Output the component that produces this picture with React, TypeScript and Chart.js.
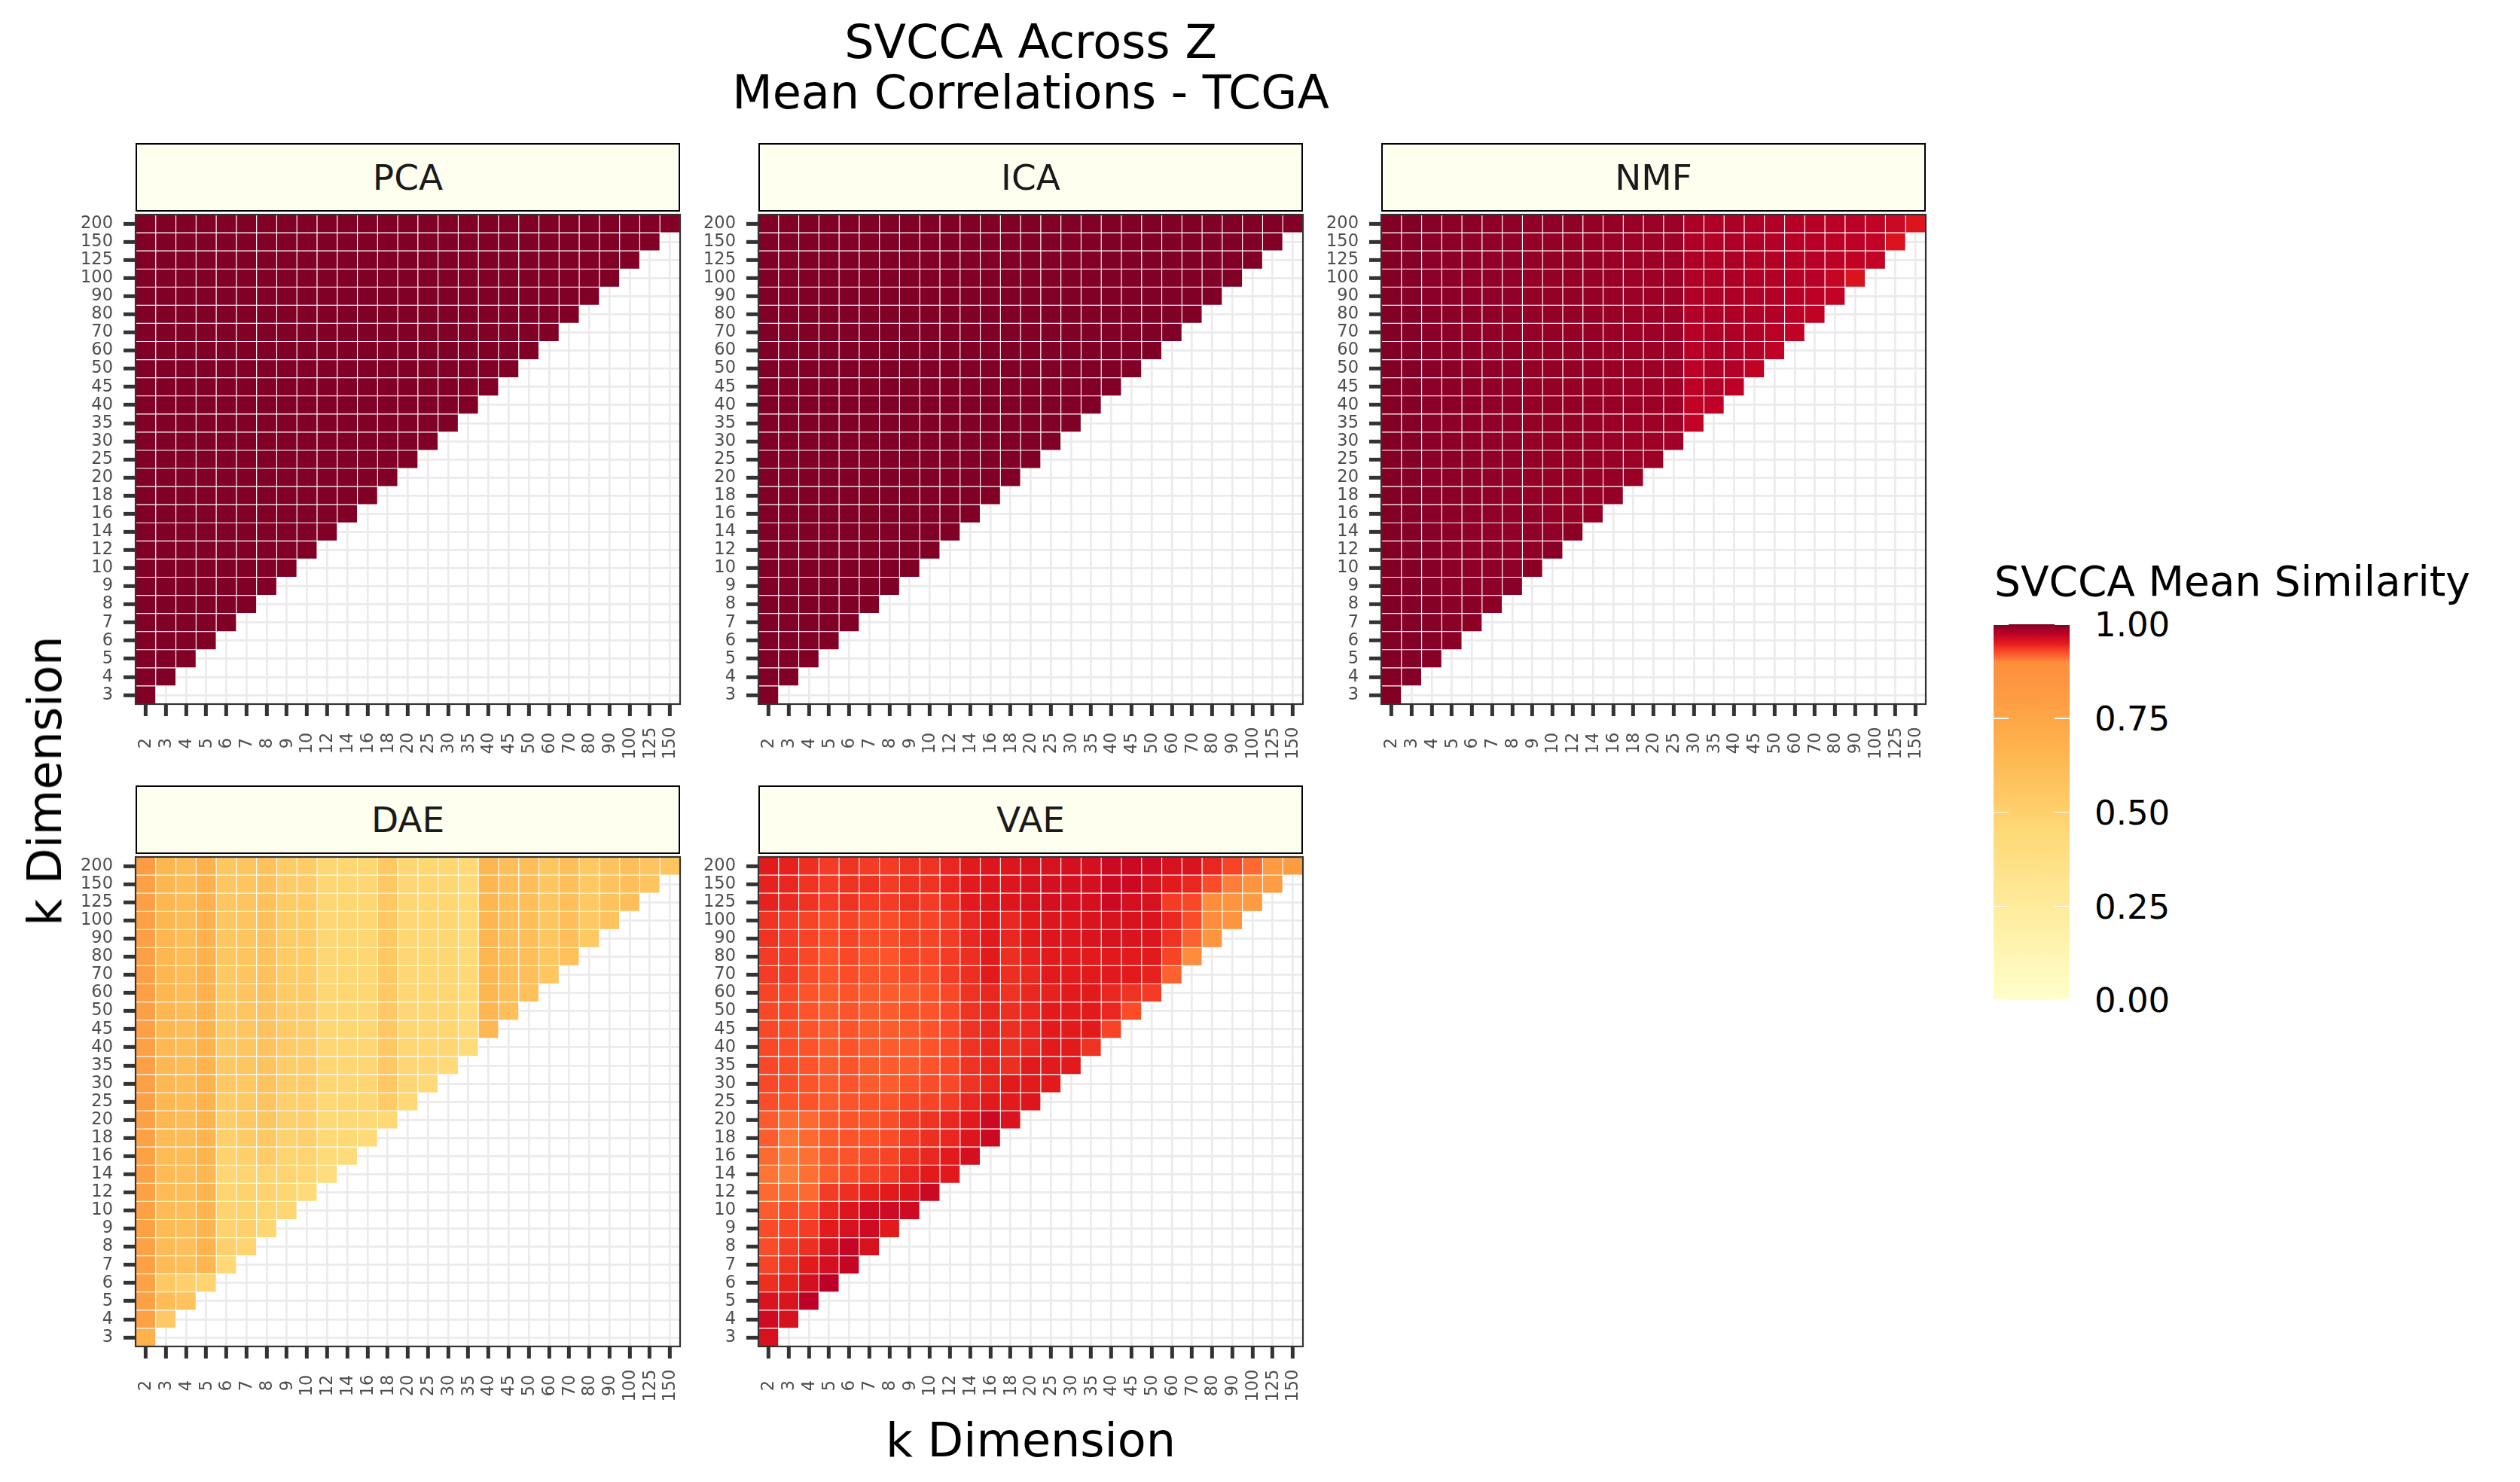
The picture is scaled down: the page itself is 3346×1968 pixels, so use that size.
import React, { useEffect, useRef } from "react";
import { Chart, registerables } from "chart.js";

Chart.register(...registerables);

const FONT = "'DejaVu Sans', 'Liberation Sans', sans-serif";
Chart.defaults.font.family = FONT;

// ---------------- data ----------------
const xLabels = ["2","3","4","5","6","7","8","9","10","12","14","16","18","20","25","30","35","40","45","50","60","70","80","90","100","125","150"];
const yLabels = ["3","4","5","6","7","8","9","10","12","14","16","18","20","25","30","35","40","45","50","60","70","80","90","100","125","150","200"];
const methodNames = ["PCA", "ICA", "NMF", "DAE", "VAE"];

const paletteStops = [0, 0.225, 0.45, 0.675, 0.9, 0.925, 0.95, 0.975, 1];
const paletteColors = ["#FFFFCC", "#FFEDA0", "#FED976", "#FEB24C", "#FD8D3C", "#FC4E2A", "#E31A1C", "#BD0026", "#800026"];
const legendTicks = [0, 0.25, 0.5, 0.75, 1];
const legendTickLabels = ["0.00", "0.25", "0.50", "0.75", "1.00"];

// rows: y = 3 (first) ... y = 200 (last); each row holds x = 2 ... (< y)
const pcaValues: number[][] = [
  [1],
  [1, 1],
  [1, 1, 1],
  [1, 1, 1, 1],
  [1, 1, 1, 1, 1],
  [1, 1, 1, 1, 1, 1],
  [1, 1, 1, 1, 1, 1, 1],
  [1, 1, 1, 1, 1, 1, 1, 1],
  [1, 1, 1, 1, 1, 1, 1, 1, 1],
  [1, 1, 1, 1, 1, 1, 1, 1, 1, 1],
  [1, 1, 1, 1, 1, 1, 1, 1, 1, 1, 1],
  [1, 1, 1, 1, 1, 1, 1, 1, 1, 1, 1, 1],
  [1, 1, 1, 1, 1, 1, 1, 1, 1, 1, 1, 1, 1],
  [1, 1, 1, 1, 1, 1, 1, 1, 1, 1, 1, 1, 1, 1],
  [1, 1, 1, 1, 1, 1, 1, 1, 1, 1, 1, 1, 1, 1, 1],
  [1, 1, 1, 1, 1, 1, 1, 1, 1, 1, 1, 1, 1, 1, 1, 1],
  [1, 1, 1, 1, 1, 1, 1, 1, 1, 1, 1, 1, 1, 1, 1, 1, 1],
  [1, 1, 1, 1, 1, 1, 1, 1, 1, 1, 1, 1, 1, 1, 1, 1, 1, 1],
  [1, 1, 1, 1, 1, 1, 1, 1, 1, 1, 1, 1, 1, 1, 1, 1, 1, 1, 1],
  [1, 1, 1, 1, 1, 1, 1, 1, 1, 1, 1, 1, 1, 1, 1, 1, 1, 1, 1, 1],
  [1, 1, 1, 1, 1, 1, 1, 1, 1, 1, 1, 1, 1, 1, 1, 1, 1, 1, 1, 1, 1],
  [1, 1, 1, 1, 1, 1, 1, 1, 1, 1, 1, 1, 1, 1, 1, 1, 1, 1, 1, 1, 1, 1],
  [1, 1, 1, 1, 1, 1, 1, 1, 1, 1, 1, 1, 1, 1, 1, 1, 1, 1, 1, 1, 1, 1, 1],
  [1, 1, 1, 1, 1, 1, 1, 1, 1, 1, 1, 1, 1, 1, 1, 1, 1, 1, 1, 1, 1, 1, 1, 1],
  [1, 1, 1, 1, 1, 1, 1, 1, 1, 1, 1, 1, 1, 1, 1, 1, 1, 1, 1, 1, 1, 1, 1, 1, 0.999],
  [1, 1, 1, 1, 1, 1, 1, 1, 1, 1, 1, 1, 1, 1, 1, 1, 1, 1, 1, 1, 1, 1, 1, 1, 0.999, 0.999],
  [1, 1, 1, 1, 1, 1, 1, 1, 1, 1, 1, 1, 1, 1, 1, 1, 1, 1, 1, 1, 1, 1, 1, 1, 0.999, 0.999, 0.998],
];

const icaValues: number[][] = [
  [1],
  [1, 1],
  [1, 1, 1],
  [1, 1, 1, 1],
  [1, 1, 1, 1, 1],
  [1, 1, 1, 1, 1, 1],
  [1, 1, 1, 1, 1, 1, 1],
  [1, 1, 1, 1, 1, 1, 1, 1],
  [1, 1, 1, 1, 1, 1, 1, 1, 1],
  [1, 1, 1, 1, 1, 1, 1, 1, 1, 1],
  [1, 1, 1, 1, 1, 1, 1, 1, 1, 1, 1],
  [1, 1, 1, 1, 1, 1, 1, 1, 1, 1, 1, 1],
  [1, 1, 1, 1, 1, 1, 1, 1, 1, 1, 1, 1, 1],
  [1, 1, 1, 1, 1, 1, 1, 1, 1, 1, 1, 1, 1, 1],
  [1, 1, 1, 1, 1, 1, 1, 1, 1, 1, 1, 1, 1, 1, 1],
  [1, 1, 1, 1, 1, 1, 1, 1, 1, 1, 1, 1, 1, 1, 1, 1],
  [1, 1, 1, 1, 1, 1, 1, 1, 1, 1, 1, 1, 1, 1, 1, 1, 1],
  [1, 1, 1, 1, 1, 1, 1, 1, 1, 1, 1, 1, 1, 1, 1, 1, 1, 1],
  [1, 1, 1, 1, 1, 1, 1, 1, 1, 1, 1, 1, 1, 1, 1, 1, 1, 1, 1],
  [1, 1, 1, 1, 1, 1, 1, 1, 1, 1, 1, 1, 1, 1, 1, 1, 1, 1, 1, 1],
  [1, 1, 1, 1, 1, 1, 1, 1, 1, 1, 1, 1, 1, 1, 1, 1, 1, 1, 1, 1, 1],
  [1, 1, 1, 1, 1, 1, 1, 1, 1, 1, 1, 1, 1, 1, 1, 1, 1, 1, 1, 1, 1, 1],
  [1, 1, 1, 1, 1, 1, 1, 1, 1, 1, 1, 1, 1, 1, 1, 1, 1, 1, 1, 1, 1, 1, 1],
  [1, 1, 1, 1, 1, 1, 1, 1, 1, 1, 1, 1, 1, 1, 1, 1, 1, 1, 1, 1, 1, 1, 1, 1],
  [1, 1, 1, 1, 1, 1, 1, 1, 1, 1, 1, 1, 1, 1, 1, 1, 1, 1, 1, 1, 1, 1, 1, 1, 1],
  [1, 1, 1, 1, 1, 1, 1, 1, 1, 1, 1, 1, 1, 1, 1, 1, 1, 1, 1, 1, 1, 1, 1, 1, 1, 0.999],
  [1, 1, 1, 1, 1, 1, 1, 1, 1, 1, 1, 1, 1, 1, 1, 1, 1, 1, 1, 1, 1, 1, 1, 1, 1, 0.999, 0.999],
];

const nmfValues: number[][] = [
  [0.999],
  [0.999, 0.998],
  [0.999, 0.998, 0.997],
  [0.999, 0.998, 0.997, 0.996],
  [0.999, 0.998, 0.997, 0.996, 0.995],
  [0.999, 0.998, 0.997, 0.996, 0.995, 0.995],
  [0.999, 0.998, 0.997, 0.995, 0.995, 0.994, 0.996],
  [0.999, 0.998, 0.997, 0.995, 0.994, 0.994, 0.994, 0.995],
  [0.999, 0.998, 0.997, 0.995, 0.994, 0.994, 0.993, 0.993, 0.996],
  [0.999, 0.998, 0.997, 0.995, 0.994, 0.993, 0.993, 0.993, 0.993, 0.995],
  [0.999, 0.998, 0.996, 0.995, 0.994, 0.993, 0.993, 0.993, 0.992, 0.992, 0.991],
  [0.999, 0.998, 0.996, 0.995, 0.994, 0.993, 0.993, 0.992, 0.992, 0.992, 0.991, 0.991],
  [0.999, 0.998, 0.996, 0.995, 0.994, 0.993, 0.993, 0.992, 0.992, 0.992, 0.991, 0.991, 0.990],
  [0.999, 0.998, 0.996, 0.995, 0.994, 0.993, 0.993, 0.992, 0.992, 0.992, 0.991, 0.990, 0.989, 0.988],
  [0.999, 0.998, 0.996, 0.995, 0.994, 0.993, 0.993, 0.992, 0.992, 0.992, 0.991, 0.990, 0.989, 0.988, 0.986],
  [0.999, 0.998, 0.996, 0.995, 0.994, 0.993, 0.993, 0.992, 0.992, 0.992, 0.991, 0.990, 0.989, 0.988, 0.987, 0.972],
  [0.999, 0.998, 0.996, 0.995, 0.994, 0.993, 0.993, 0.992, 0.992, 0.992, 0.991, 0.990, 0.989, 0.988, 0.987, 0.973, 0.974],
  [0.999, 0.998, 0.996, 0.995, 0.994, 0.993, 0.993, 0.992, 0.992, 0.992, 0.991, 0.990, 0.989, 0.988, 0.987, 0.975, 0.979, 0.975],
  [0.999, 0.998, 0.996, 0.995, 0.994, 0.993, 0.993, 0.992, 0.992, 0.992, 0.991, 0.990, 0.989, 0.988, 0.987, 0.975, 0.980, 0.979, 0.973],
  [0.999, 0.998, 0.996, 0.995, 0.994, 0.993, 0.993, 0.992, 0.992, 0.992, 0.991, 0.990, 0.989, 0.988, 0.988, 0.977, 0.981, 0.981, 0.979, 0.973],
  [0.999, 0.998, 0.996, 0.995, 0.994, 0.993, 0.993, 0.992, 0.992, 0.992, 0.991, 0.990, 0.989, 0.988, 0.988, 0.978, 0.981, 0.981, 0.980, 0.976, 0.973],
  [0.999, 0.998, 0.996, 0.995, 0.994, 0.993, 0.993, 0.992, 0.992, 0.992, 0.991, 0.990, 0.989, 0.988, 0.988, 0.979, 0.981, 0.981, 0.980, 0.979, 0.976, 0.973],
  [0.999, 0.998, 0.996, 0.995, 0.994, 0.993, 0.993, 0.992, 0.992, 0.992, 0.991, 0.990, 0.989, 0.988, 0.988, 0.980, 0.981, 0.981, 0.980, 0.979, 0.977, 0.975, 0.972],
  [0.999, 0.998, 0.996, 0.995, 0.994, 0.993, 0.993, 0.992, 0.992, 0.992, 0.991, 0.990, 0.989, 0.988, 0.988, 0.980, 0.981, 0.982, 0.980, 0.979, 0.978, 0.977, 0.970, 0.956],
  [0.999, 0.998, 0.996, 0.995, 0.994, 0.993, 0.993, 0.992, 0.992, 0.992, 0.991, 0.990, 0.989, 0.988, 0.988, 0.981, 0.980, 0.982, 0.980, 0.979, 0.978, 0.977, 0.976, 0.973, 0.972],
  [0.999, 0.998, 0.996, 0.995, 0.994, 0.993, 0.993, 0.992, 0.992, 0.992, 0.991, 0.990, 0.989, 0.988, 0.988, 0.981, 0.980, 0.982, 0.980, 0.979, 0.978, 0.977, 0.976, 0.975, 0.972, 0.956],
  [0.999, 0.999, 0.997, 0.996, 0.995, 0.994, 0.994, 0.993, 0.993, 0.993, 0.992, 0.991, 0.990, 0.989, 0.988, 0.981, 0.980, 0.982, 0.980, 0.979, 0.978, 0.977, 0.976, 0.975, 0.972, 0.967, 0.955],
];

const daeValues: number[][] = [
  [0.68],
  [0.78, 0.54],
  [0.78, 0.62, 0.58],
  [0.77, 0.55, 0.50, 0.48],
  [0.78, 0.63, 0.60, 0.65, 0.45],
  [0.78, 0.63, 0.60, 0.67, 0.50, 0.48],
  [0.78, 0.63, 0.61, 0.66, 0.49, 0.51, 0.47],
  [0.78, 0.63, 0.61, 0.66, 0.49, 0.49, 0.48, 0.46],
  [0.78, 0.63, 0.61, 0.66, 0.48, 0.49, 0.49, 0.47, 0.44],
  [0.78, 0.63, 0.61, 0.64, 0.46, 0.48, 0.48, 0.48, 0.47, 0.40],
  [0.78, 0.63, 0.62, 0.66, 0.49, 0.51, 0.53, 0.48, 0.48, 0.44, 0.42],
  [0.78, 0.63, 0.62, 0.66, 0.51, 0.53, 0.55, 0.49, 0.50, 0.45, 0.45, 0.44],
  [0.78, 0.64, 0.62, 0.66, 0.52, 0.54, 0.56, 0.50, 0.50, 0.45, 0.45, 0.45, 0.45],
  [0.79, 0.64, 0.62, 0.67, 0.53, 0.55, 0.57, 0.51, 0.51, 0.45, 0.46, 0.46, 0.53, 0.45],
  [0.79, 0.64, 0.62, 0.67, 0.54, 0.55, 0.58, 0.52, 0.52, 0.46, 0.46, 0.46, 0.54, 0.46, 0.45],
  [0.79, 0.64, 0.62, 0.67, 0.54, 0.56, 0.58, 0.52, 0.52, 0.46, 0.47, 0.46, 0.54, 0.46, 0.46, 0.44],
  [0.79, 0.64, 0.62, 0.67, 0.55, 0.56, 0.58, 0.53, 0.52, 0.46, 0.47, 0.46, 0.54, 0.46, 0.46, 0.46, 0.42],
  [0.79, 0.64, 0.62, 0.67, 0.55, 0.56, 0.58, 0.53, 0.52, 0.46, 0.47, 0.46, 0.54, 0.46, 0.47, 0.47, 0.44, 0.64],
  [0.79, 0.65, 0.62, 0.67, 0.55, 0.56, 0.58, 0.53, 0.52, 0.46, 0.47, 0.46, 0.54, 0.46, 0.47, 0.47, 0.44, 0.65, 0.60],
  [0.79, 0.65, 0.62, 0.68, 0.55, 0.57, 0.59, 0.53, 0.53, 0.46, 0.47, 0.46, 0.55, 0.46, 0.47, 0.47, 0.45, 0.65, 0.60, 0.59],
  [0.79, 0.65, 0.62, 0.68, 0.55, 0.57, 0.59, 0.53, 0.53, 0.46, 0.47, 0.46, 0.55, 0.46, 0.47, 0.47, 0.45, 0.65, 0.60, 0.60, 0.56],
  [0.79, 0.65, 0.62, 0.68, 0.56, 0.57, 0.59, 0.53, 0.53, 0.46, 0.47, 0.46, 0.55, 0.46, 0.47, 0.47, 0.45, 0.65, 0.60, 0.60, 0.56, 0.59],
  [0.79, 0.65, 0.62, 0.68, 0.56, 0.57, 0.59, 0.53, 0.53, 0.46, 0.47, 0.46, 0.55, 0.46, 0.47, 0.47, 0.45, 0.65, 0.60, 0.60, 0.56, 0.60, 0.55],
  [0.79, 0.65, 0.62, 0.68, 0.56, 0.57, 0.59, 0.53, 0.53, 0.46, 0.47, 0.46, 0.55, 0.46, 0.47, 0.47, 0.45, 0.65, 0.60, 0.60, 0.56, 0.60, 0.55, 0.58],
  [0.79, 0.65, 0.62, 0.68, 0.56, 0.57, 0.59, 0.53, 0.53, 0.46, 0.47, 0.46, 0.55, 0.46, 0.47, 0.47, 0.45, 0.65, 0.60, 0.60, 0.56, 0.60, 0.55, 0.58, 0.60],
  [0.79, 0.65, 0.62, 0.68, 0.56, 0.57, 0.59, 0.53, 0.53, 0.46, 0.47, 0.46, 0.55, 0.46, 0.47, 0.47, 0.45, 0.65, 0.60, 0.60, 0.56, 0.60, 0.55, 0.58, 0.60, 0.57],
  [0.80, 0.65, 0.62, 0.68, 0.56, 0.57, 0.59, 0.53, 0.53, 0.46, 0.47, 0.46, 0.55, 0.46, 0.47, 0.47, 0.45, 0.65, 0.60, 0.60, 0.56, 0.60, 0.55, 0.58, 0.60, 0.57, 0.57],
];

const vaeValues: number[][] = [
  [0.958],
  [0.964, 0.958],
  [0.956, 0.956, 0.975],
  [0.940, 0.946, 0.960, 0.975],
  [0.930, 0.938, 0.950, 0.960, 0.970],
  [0.926, 0.934, 0.940, 0.958, 0.970, 0.958],
  [0.926, 0.930, 0.934, 0.950, 0.958, 0.964, 0.950],
  [0.920, 0.926, 0.926, 0.944, 0.954, 0.964, 0.964, 0.964],
  [0.914, 0.914, 0.914, 0.934, 0.940, 0.946, 0.950, 0.954, 0.966],
  [0.910, 0.906, 0.912, 0.920, 0.926, 0.930, 0.934, 0.944, 0.950, 0.951],
  [0.914, 0.908, 0.912, 0.920, 0.923, 0.926, 0.930, 0.938, 0.944, 0.950, 0.960],
  [0.920, 0.910, 0.914, 0.920, 0.923, 0.923, 0.926, 0.934, 0.940, 0.944, 0.954, 0.966],
  [0.920, 0.914, 0.914, 0.920, 0.923, 0.923, 0.926, 0.934, 0.938, 0.944, 0.951, 0.966, 0.956],
  [0.926, 0.923, 0.923, 0.920, 0.923, 0.923, 0.923, 0.928, 0.930, 0.934, 0.944, 0.950, 0.950, 0.954],
  [0.928, 0.926, 0.923, 0.920, 0.923, 0.920, 0.920, 0.923, 0.926, 0.928, 0.938, 0.944, 0.950, 0.950, 0.950],
  [0.928, 0.926, 0.923, 0.920, 0.923, 0.920, 0.920, 0.920, 0.923, 0.928, 0.938, 0.944, 0.940, 0.950, 0.950, 0.950],
  [0.928, 0.926, 0.923, 0.920, 0.923, 0.920, 0.920, 0.920, 0.923, 0.928, 0.938, 0.944, 0.940, 0.944, 0.950, 0.950, 0.938],
  [0.928, 0.926, 0.923, 0.920, 0.923, 0.920, 0.920, 0.921, 0.923, 0.928, 0.938, 0.944, 0.940, 0.944, 0.950, 0.950, 0.950, 0.930],
  [0.928, 0.928, 0.923, 0.920, 0.923, 0.920, 0.920, 0.923, 0.923, 0.928, 0.938, 0.944, 0.940, 0.944, 0.950, 0.950, 0.950, 0.944, 0.926],
  [0.930, 0.928, 0.923, 0.920, 0.923, 0.920, 0.920, 0.920, 0.923, 0.928, 0.938, 0.944, 0.938, 0.944, 0.946, 0.950, 0.950, 0.944, 0.938, 0.934],
  [0.934, 0.934, 0.926, 0.923, 0.926, 0.923, 0.923, 0.926, 0.926, 0.934, 0.940, 0.950, 0.940, 0.944, 0.950, 0.950, 0.950, 0.951, 0.950, 0.946, 0.917],
  [0.934, 0.934, 0.928, 0.923, 0.928, 0.923, 0.923, 0.928, 0.928, 0.934, 0.940, 0.950, 0.940, 0.946, 0.950, 0.950, 0.950, 0.951, 0.950, 0.950, 0.930, 0.900],
  [0.938, 0.934, 0.930, 0.926, 0.930, 0.926, 0.926, 0.930, 0.930, 0.934, 0.944, 0.950, 0.944, 0.950, 0.954, 0.954, 0.956, 0.958, 0.956, 0.954, 0.938, 0.917, 0.855],
  [0.938, 0.934, 0.930, 0.926, 0.930, 0.926, 0.926, 0.930, 0.930, 0.934, 0.944, 0.950, 0.944, 0.950, 0.954, 0.954, 0.956, 0.958, 0.958, 0.956, 0.944, 0.926, 0.900, 0.850],
  [0.946, 0.943, 0.938, 0.934, 0.938, 0.934, 0.934, 0.938, 0.934, 0.940, 0.950, 0.954, 0.954, 0.958, 0.960, 0.960, 0.960, 0.966, 0.960, 0.958, 0.934, 0.928, 0.900, 0.850, 0.820],
  [0.946, 0.944, 0.938, 0.934, 0.938, 0.938, 0.934, 0.938, 0.938, 0.944, 0.950, 0.954, 0.954, 0.958, 0.960, 0.960, 0.960, 0.966, 0.966, 0.958, 0.950, 0.944, 0.926, 0.906, 0.855, 0.800],
  [0.950, 0.946, 0.940, 0.934, 0.938, 0.934, 0.934, 0.938, 0.938, 0.944, 0.950, 0.954, 0.954, 0.958, 0.958, 0.960, 0.960, 0.966, 0.966, 0.964, 0.958, 0.956, 0.944, 0.930, 0.914, 0.820, 0.800],
];

const methodValues = [pcaValues, icaValues, nmfValues, daeValues, vaeValues];

// ---------------- layout ----------------
const PANEL_W = 723;
const PANEL_H = 650;
const PANEL_LEFTS = [180, 1007, 1834];
const PANEL_TOPS = [285, 1138];
const STRIP_H = 91;
const STRIP_GAP = 4;
const Y_AXIS_W = 90;
const X_AXIS_H = 110;
const PAD_T = 16;
const PAD_R = 6;
const TICK_FONT = 22.5;

function hexToRgb(h: string): number[] {
  const n = parseInt(h.slice(1), 16);
  return [(n >> 16) & 255, (n >> 8) & 255, n & 255];
}

function colorFor(v: number | undefined): string {
  if (v === undefined || v === null || isNaN(v)) return "rgba(0,0,0,0)";
  const x = Math.min(1, Math.max(0, v));
  for (let k = 0; k < paletteStops.length - 1; k++) {
    const a = paletteStops[k];
    const b = paletteStops[k + 1];
    if (x <= b) {
      const t = (x - a) / (b - a);
      const ca = hexToRgb(paletteColors[k]);
      const cb = hexToRgb(paletteColors[k + 1]);
      const c = ca.map((q, i) => Math.round(q + (cb[i] - q) * t));
      return `rgb(${c[0]},${c[1]},${c[2]})`;
    }
  }
  return paletteColors[paletteColors.length - 1];
}

const framePlugin = {
  id: "panelFrame",
  afterDraw(chart: any) {
    const { ctx, chartArea: a, scales } = chart;
    ctx.save();
    ctx.strokeStyle = "#333333";
    ctx.lineWidth = 2.2;
    ctx.strokeRect(a.left, a.top, a.right - a.left, a.bottom - a.top);
    const xs = scales.x;
    ctx.fillStyle = "#4D4D4D";
    ctx.font = `${TICK_FONT}px ${FONT}`;
    ctx.textAlign = "center";
    ctx.textBaseline = "middle";
    xLabels.forEach((lab, i) => {
      const px = xs.getPixelForTick(i);
      ctx.save();
      ctx.translate(px + 1, a.bottom + 52);
      ctx.rotate(-Math.PI / 2);
      ctx.fillText(lab, 0, 0);
      ctx.restore();
    });
    ctx.restore();
  },
};

function Panel({ values, left, top }: { values: number[][]; left: number; top: number }) {
  const ref = useRef<HTMLCanvasElement | null>(null);
  useEffect(() => {
    if (!ref.current) return;
    const datasets = yLabels.map((_, j) => ({
      data: xLabels.map((__, i) => (i <= j ? [j - 0.5, j + 0.5] : null)),
      backgroundColor: xLabels.map((__, i) => (i <= j ? colorFor(values[j][i]) : "rgba(0,0,0,0)")),
      borderColor: "#FFFFFF",
      borderWidth: 0.9,
      borderSkipped: false,
      grouped: false,
      barPercentage: 1,
      categoryPercentage: 1,
    }));
    const gridOpts = {
      offset: false,
      color: "#EBEBEB",
      lineWidth: 2.7,
      drawTicks: true,
      tickLength: 16,
      tickColor: "#333333",
      tickWidth: 5,
    };
    const chart = new Chart(ref.current, {
      type: "bar",
      data: { labels: xLabels, datasets: datasets as any },
      options: {
        animation: false,
        responsive: false,
        maintainAspectRatio: false,
        events: [],
        layout: { padding: { top: PAD_T, right: PAD_R, left: 0, bottom: 0 } },
        plugins: { legend: { display: false }, tooltip: { enabled: false }, title: { display: false } },
        scales: {
          x: {
            type: "category",
            offset: true,
            grid: gridOpts,
            border: { display: false },
            ticks: { display: false, autoSkip: false },
            afterFit: (s: any) => {
              s.height = X_AXIS_H;
              s.paddingLeft = 0;
              s.paddingRight = 0;
              s.paddingTop = 0;
              s.paddingBottom = 0;
            },
          },
          y: {
            type: "linear",
            min: -0.5,
            max: 26.5,
            bounds: "data",
            grid: gridOpts,
            border: { display: false },
            afterBuildTicks: (s: any) => {
              s.ticks = yLabels.map((__, i) => ({ value: i }));
            },
            ticks: {
              autoSkip: false,
              padding: 14,
              color: "#4D4D4D",
              font: { family: FONT, size: TICK_FONT },
              callback: (v: any) => yLabels[Math.round(Number(v))] ?? "",
            },
            afterFit: (s: any) => {
              s.width = Y_AXIS_W;
              s.paddingTop = 0;
              s.paddingBottom = 0;
              s.paddingLeft = 0;
              s.paddingRight = 0;
            },
          },
        },
      } as any,
      plugins: [framePlugin],
    });
    return () => chart.destroy();
  }, [values]);
  const w = Y_AXIS_W + PANEL_W + PAD_R;
  const h = PAD_T + PANEL_H + X_AXIS_H;
  return (
    <canvas
      ref={ref}
      width={w}
      height={h}
      style={{ position: "absolute", left: left - Y_AXIS_W, top: top - PAD_T, width: w, height: h, zIndex: 1 }}
    />
  );
}

function BaseText({ x, base, size, align, children, color = "#000000" }: any) {
  const style: any = {
    position: "absolute",
    top: base - 0.846 * size,
    fontSize: size,
    lineHeight: `${size}px`,
    whiteSpace: "nowrap",
    color,
    fontFamily: FONT,
    zIndex: 3,
  };
  if (align === "center") {
    style.left = x - 1500;
    style.width = 3000;
    style.textAlign = "center";
  } else {
    style.left = x;
  }
  return <div style={style}>{children}</div>;
}

export default function App() {
  const panelCenterX = (PANEL_LEFTS[0] + PANEL_LEFTS[2] + PANEL_W) / 2;
  const barTop = 829;
  const barH = 499;
  const barLeft = 2647;
  const barW = 101;
  const gradient =
    "linear-gradient(to top, " +
    paletteStops.map((s, i) => `${paletteColors[i]} ${(s * 100).toFixed(2)}%`).join(", ") +
    ")";
  return (
    <div
      style={{
        position: "relative",
        width: 3346,
        height: 1968,
        background: "#FFFFFF",
        overflow: "hidden",
        fontFamily: FONT,
      }}
    >
      <style>{`body{margin:0;background:#ffffff;}`}</style>

      <BaseText x={panelCenterX} base={77} size={62} align="center">SVCCA Across Z</BaseText>
      <BaseText x={panelCenterX} base={144} size={62} align="center">Mean Correlations - TCGA</BaseText>

      {methodNames.map((name, m) => {
        const left = PANEL_LEFTS[m % 3];
        const top = PANEL_TOPS[Math.floor(m / 3)];
        return (
          <React.Fragment key={name}>
            <Panel values={methodValues[m]} left={left} top={top} />
            <div
              style={{
                position: "absolute",
                left,
                top: top - STRIP_GAP - STRIP_H,
                width: PANEL_W,
                height: STRIP_H,
                boxSizing: "border-box",
                border: "2.5px solid #000000",
                background: "#FFFFF0",
                display: "flex",
                alignItems: "center",
                justifyContent: "center",
                fontSize: 47,
                lineHeight: "47px",
                color: "#1A1A1A",
                fontFamily: FONT,
                zIndex: 2,
              }}
            >
              {name}
            </div>
          </React.Fragment>
        );
      })}

      <BaseText x={panelCenterX} base={1934} size={62} align="center">k Dimension</BaseText>
      <div
        style={{
          position: "absolute",
          left: 60,
          top: (PANEL_TOPS[0] + PANEL_TOPS[1] + PANEL_H) / 2,
          transform: "translate(-50%, -50%) rotate(-90deg)",
          fontSize: 62,
          lineHeight: "62px",
          whiteSpace: "nowrap",
          color: "#000000",
          fontFamily: FONT,
          zIndex: 3,
        }}
      >
        k Dimension
      </div>

      <BaseText x={2648} base={792} size={55}>SVCCA Mean Similarity</BaseText>
      <div
        style={{
          position: "absolute",
          left: barLeft,
          top: barTop,
          width: barW,
          height: barH,
          background: gradient,
          zIndex: 2,
        }}
      />
      {legendTicks.map((v, i) => {
        const y = barTop + barH - v * barH;
        return (
          <React.Fragment key={v}>
            <div style={{ position: "absolute", left: barLeft, top: y - 0.75, width: 20, height: 1.5, background: "#FFFFFF", zIndex: 3 }} />
            <div style={{ position: "absolute", left: barLeft + barW - 20, top: y - 0.75, width: 20, height: 1.5, background: "#FFFFFF", zIndex: 3 }} />
            <div
              style={{
                position: "absolute",
                left: 2781,
                top: y - 0.4815 * 45,
                fontSize: 45,
                lineHeight: "45px",
                whiteSpace: "nowrap",
                color: "#000000",
                fontFamily: FONT,
                zIndex: 3,
              }}
            >
              {legendTickLabels[i]}
            </div>
          </React.Fragment>
        );
      })}
    </div>
  );
}
